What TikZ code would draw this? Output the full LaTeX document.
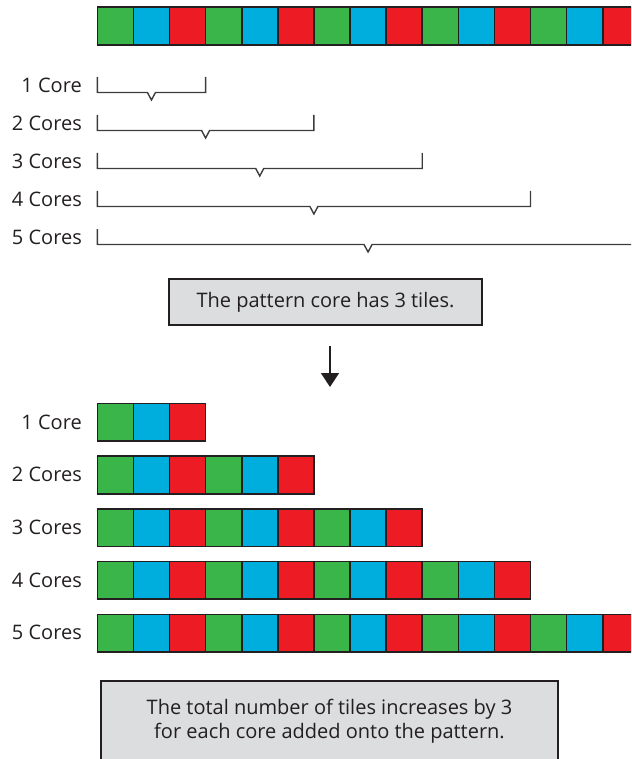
\documentclass[tikz,border=0pt]{standalone}
\usepackage{fontspec}
\setmainfont{Open Sans}
\usetikzlibrary{arrows.meta}
\definecolor{c0}{HTML}{3AB54A}
\definecolor{c1}{HTML}{00AEDE}
\definecolor{c2}{HTML}{ED1C24}
\definecolor{boxgray}{HTML}{DCDDDE}
\definecolor{ink}{HTML}{231F20}
\definecolor{brk}{HTML}{3C3C3C}
\begin{document}
\begin{tikzpicture}[x=1pt,y=-1pt,
  tile/.style={draw=ink, line width=1.6pt, minimum width=36.1pt, minimum height=37.5pt,
    inner sep=0pt, outer sep=0pt, anchor=north west},
  lbl/.style={anchor=base east, inner sep=0pt, text=ink, font=\fontsize{20}{23}\selectfont},
  bracket/.style={draw=brk, line width=1.4pt, line join=miter},
  infobox/.style={draw=ink, line width=1.4pt, fill=boxgray, text=ink, align=center,
    font=\fontsize{20}{24}\selectfont, inner sep=0pt},
  flow/.style={draw=ink, line width=1.4pt, -{Triangle[width=18pt,length=14pt]}}]
\useasboundingbox (0,0) rectangle (631,759);
\clip (0,0) rectangle (631,759);
% top strip
\foreach \i [evaluate=\i as \c using {int(mod(\i,3))}] in {0,...,14}
  \node[tile, fill=c\c, minimum height=37.7pt] (top-\i) at ({97.3+36.1*\i},7.3) {};
% brackets
\foreach \k/\name in {1/1 Core,2/2 Cores,3/3 Cores,4/4 Cores,5/5 Cores} {
  \pgfmathsetmacro{\B}{92.5+38*(\k-1)}
  \pgfmathsetmacro{\R}{97.3+108.3*\k}
  \pgfmathsetmacro{\M}{97.3+54.15*\k}
  \node[lbl] (blbl-\k) at (82,\B) {\name};
  \draw[bracket] (97.3,\B-15.5) -- (97.3,\B) -- (\M-4,\B) -- (\M,\B+7.5) -- (\M+4,\B) -- (\R,\B) -- (\R,\B-15.5);
}
% box 1
\node[infobox, minimum width=313pt, minimum height=46pt] (box1) at (325.5,302) {The pattern core has 3 tiles.};
% arrow
\coordinate (a1) at (330,346);
\coordinate (a2) at (330,387);
\draw[flow] (a1) -- (a2);
% rows
\foreach \k/\name in {1/1 Core,2/2 Cores,3/3 Cores,4/4 Cores,5/5 Cores} {
  \pgfmathsetmacro{\Y}{403.5+52.7*(\k-1)}
  \pgfmathtruncatemacro{\N}{3*\k-1}
  \node[lbl] (rlbl-\k) at (82,\Y+25.5) {\name};
  \foreach \i [evaluate=\i as \c using {int(mod(\i,3))}] in {0,...,\N}
    \node[tile, fill=c\c] (row\k-\i) at ({97.3+36.1*\i},\Y) {};
}
% box 2
\node[infobox, minimum width=457pt, minimum height=80pt] (box2) at (329.5,721)
  {The total number of tiles increases by 3\\for each core added onto the pattern.};
\end{tikzpicture}
\end{document}
